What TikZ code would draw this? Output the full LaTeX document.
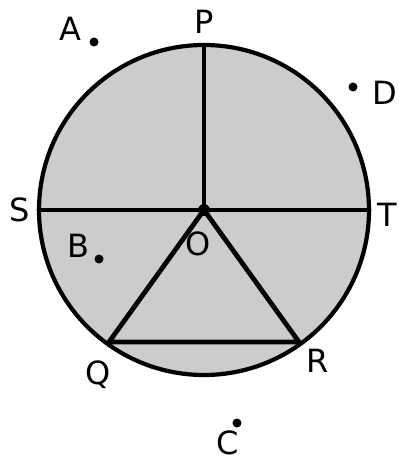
\documentclass[tikz,border=0pt]{standalone}
\usepackage{fontspec}
\setmainfont{DejaVu Sans}
\begin{document}
\begin{tikzpicture}[x=1pt,y=-1pt,
  lbl/.style={font=\fontsize{32}{32}\selectfont, inner sep=0pt},
  seg/.style={line width=4.8pt, line cap=round, line join=round},
  dotpt/.style={circle, fill=black, inner sep=0pt, minimum size=9pt}]
\useasboundingbox (0,0) rectangle (398,462);
\coordinate (O) at (204,210);
\coordinate (P) at (204,46);
\coordinate (S) at (39,210);
\coordinate (T) at (369,210);
\coordinate (Q) at (109,342);
\coordinate (R) at (299,342);
\draw[line width=4.2pt, fill={rgb,255:red,204;green,204;blue,204}] (O) circle[radius=165];
\draw[seg] (P) -- (O);
\draw[seg] (S) -- (T);
\draw[seg] (Q) -- (O) -- (R) -- cycle;
\node[dotpt, minimum size=12pt] (Odot) at (O) {};
\node[lbl] (lP) at (204,22) {P};
\node[lbl] (lS) at (20,210) {S};
\node[lbl] (lT) at (387,215) {T};
\node[lbl] (lO) at (198,244) {O};
\node[lbl] (lQ) at (98,375) {Q};
\node[lbl] (lR) at (318,361) {R};
\node[lbl] (lA) at (70,29) {A};
\node[dotpt] (dA) at (94,42) {};
\node[lbl] (lB) at (78,246) {B};
\node[dotpt] (dB) at (99,259) {};
\node[dotpt] (dD) at (353,87) {};
\node[lbl] (lD) at (385,93) {D};
\node[dotpt] (dC) at (237,423) {};
\node[lbl] (lC) at (228,443) {C};
\end{tikzpicture}
\end{document}
